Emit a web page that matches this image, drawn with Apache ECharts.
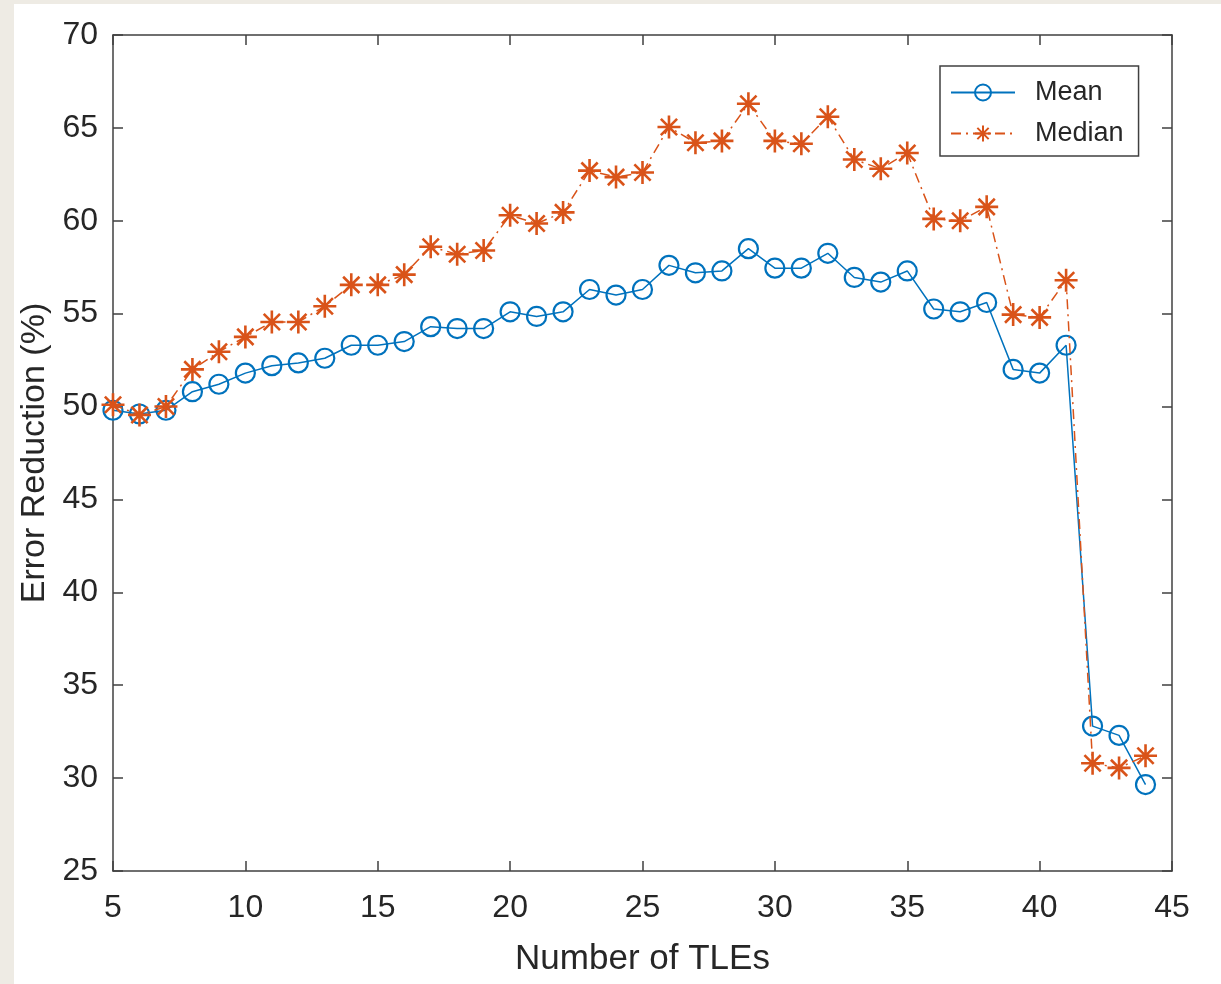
<!DOCTYPE html>
<html>
<head>
<meta charset="utf-8">
<script src="https://cdn.jsdelivr.net/npm/echarts@6/dist/echarts.min.js"></script>
<style>
  html, body { margin:0; padding:0; background:#eeebe4; width:1221px; height:984px; overflow:hidden; }
  #chart { position:absolute; left:14px; top:4px; width:1207px; height:980px; background:#ffffff; }
</style>
</head>
<body>
<div id="chart"></div>
<script>
const tles = [5,6,7,8,9,10,11,12,13,14,15,16,17,18,19,20,21,22,23,24,25,26,27,28,29,30,31,32,33,34,35,36,37,38,39,40,41,42,43,44];
const meanValues = [49.8,49.6,49.8,50.8,51.2,51.8,52.2,52.35,52.6,53.3,53.3,53.5,54.3,54.2,54.2,55.1,54.85,55.1,56.3,56.0,56.3,57.6,57.2,57.3,58.5,57.45,57.45,58.25,56.95,56.7,57.3,55.25,55.1,55.6,52.0,51.8,53.3,32.8,32.3,29.65];
const medianValues = [50.1,49.55,50.0,52.0,52.95,53.75,54.55,54.55,55.4,56.55,56.55,57.1,58.6,58.2,58.4,60.3,59.85,60.45,62.7,62.35,62.6,65.05,64.2,64.3,66.3,64.3,64.15,65.6,63.3,62.8,63.65,60.1,60.0,60.75,54.95,54.8,56.8,30.8,30.55,31.2];
const xTicks = {min:5, max:45, interval:5};
const yTicks = {min:25, max:70, interval:5};

const blue = '#0072BD';
const orange = '#D95319';
const axisColor = '#404040';
const textColor = '#262626';
const font = 'Liberation Sans, Arial, Helvetica, sans-serif';
const asterisk = 'path://M0,-10L0,10M-10,0L10,0M-7.07,-7.07L7.07,7.07M-7.07,7.07L7.07,-7.07';

const chart = echarts.init(document.getElementById('chart'), null, {renderer:'canvas'});

function baseAxis(extra) {
  return Object.assign({
    type:'value',
    splitLine:{show:false},
    axisLine:{show:true, onZero:false, lineStyle:{color:axisColor, width:1.5}},
    axisTick:{show:true, inside:true, length:10, lineStyle:{color:axisColor, width:1.5}},
  }, extra);
}

chart.setOption({
  animation:false,
  textStyle:{fontFamily:font},
  grid:{left:99, right:49, top:31, bottom:113, containLabel:false, outerBoundsMode:'none'},
  xAxis:[
    baseAxis({min:xTicks.min, max:xTicks.max, interval:xTicks.interval, position:'bottom',
      name:'Number of TLEs', nameLocation:'middle', nameGap:71,
      nameTextStyle:{color:textColor, fontSize:35, fontFamily:font},
      axisLabel:{color:textColor, fontSize:32, margin:21, fontFamily:font}}),
    baseAxis({min:xTicks.min, max:xTicks.max, interval:xTicks.interval, position:'top',
      axisLabel:{show:false}})
  ],
  yAxis:[
    baseAxis({min:yTicks.min, max:yTicks.max, interval:yTicks.interval, position:'left',
      name:'Error Reduction (%)', nameLocation:'middle', nameGap:61, nameRotate:90,
      nameTextStyle:{color:textColor, fontSize:34, fontFamily:font},
      axisLabel:{color:textColor, fontSize:32, margin:15, fontFamily:font}}),
    baseAxis({min:yTicks.min, max:yTicks.max, interval:yTicks.interval, position:'right',
      axisLabel:{show:false}})
  ],
  legend:{
    show:true, orient:'vertical', left:926, top:62,
    padding:[13,15,9,10], itemGap:14,
    itemWidth:64, itemHeight:20,
    borderColor:axisColor, borderWidth:1.5, backgroundColor:'#fff',
    textStyle:{color:textColor, fontSize:27, fontFamily:font, padding:[0,0,0,15]},
    data:['Mean','Median']
  },
  series:[
    {
      name:'Mean', type:'line',
      data: tles.map((x,i)=>[x, meanValues[i]]),
      symbol:'circle', symbolSize:19, showAllSymbol:true,
      lineStyle:{color:blue, width:1.5, type:'solid'},
      itemStyle:{color:'rgba(0,0,0,0)', borderColor:blue, borderWidth:2.2},
      z:2
    },
    {
      name:'Median', type:'line',
      data: tles.map((x,i)=>[x, medianValues[i]]),
      symbol:asterisk, symbolSize:23, showAllSymbol:true,
      lineStyle:{color:orange, width:1.5, type:[10,5,2,5]},
      itemStyle:{color:orange, borderColor:orange, borderWidth:2.6},
      z:3
    }
  ]
});
</script>
</body>
</html>
